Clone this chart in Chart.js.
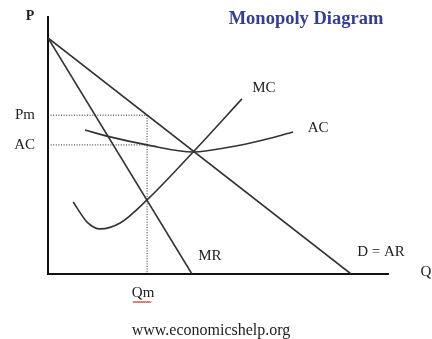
<!DOCTYPE html>
<html>
<head>
<meta charset="utf-8">
<script src="https://cdn.jsdelivr.net/npm/chart.js@4/dist/chart.umd.min.js"></script>
<style>
  html, body { margin: 0; padding: 0; background: #fff; }
  #wrap { width: 432px; height: 339px; }
</style>
</head>
<body>
<div id="wrap"><canvas id="chart" width="432" height="339"></canvas></div>
<script>
// Monopoly diagram: quantity (Q) on x, price / cost (P) on y.
const demand = [[0, 10], [10, 0]];                 // D = AR
const marginalRevenue = [[0, 10], [4.75, 0]];      // MR
const marginalCost = [[0.83, 3.05], [1.29, 2.20], [1.72, 1.91], [2.38, 2.16],
                      [3.27, 3.14], [4.79, 5.17], [6.40, 7.42]];   // MC
const averageCost = [[1.22, 6.10], [2.05, 5.81], [3.27, 5.47], [4.79, 5.17],
                     [6.01, 5.38], [7.10, 5.68], [8.09, 6.02]];    // AC
const qm = 3.27;       // profit-maximising output (MR = MC)
const pm = 6.73;       // price at Qm
const acAtQm = 5.47;   // average cost at Qm
const yTickValues = [pm, acAtQm];
const yTickLabels = ['Pm', 'AC'];
const xTickValues = [qm];
const xTickLabels = ['Qm'];

const toXY = pts => pts.map(([x, y]) => ({ x, y }));
const INK = '#333333';
const SERIF = '"Liberation Serif", "Times New Roman", serif';

const curve = (data, extra) => Object.assign({
  data: toXY(data), showLine: true, borderColor: INK, borderWidth: 1.6,
  pointRadius: 0, fill: false
}, extra || {});

const dotted = { borderColor: '#222', borderWidth: 1, borderDash: [1, 1.6] };

const labels = {
  id: 'diagramLabels',
  afterDraw(chart) {
    const { ctx, scales: { x, y } } = chart;
    const text = (s, px, py, font, color, align) => {
      ctx.save();
      ctx.font = font;
      ctx.fillStyle = color || '#222';
      ctx.textAlign = align || 'center';
      ctx.textBaseline = 'middle';
      ctx.fillText(s, px, py);
      ctx.restore();
    };
    const end = pts => pts[pts.length - 1];
    const px = p => x.getPixelForValue(p[0]);
    const py = p => y.getPixelForValue(p[1]);
    const f15 = '15px ' + SERIF;

    text('Monopoly Diagram', 306, 19, 'bold 18.5px ' + SERIF, '#353f8c');
    text('P', x.left - 18, y.top - 1, 'bold 14px ' + SERIF);
    text('Q', x.right + 38, y.bottom - 2, f15);

    const mc = end(marginalCost), ac = end(averageCost);
    const mr = end(marginalRevenue), d = end(demand);
    text('MC', px(mc) + 22, py(mc) - 11, f15);
    text('AC', px(ac) + 25, py(ac) - 4, f15);
    text('MR', px(mr) + 18, py(mr) - 18, f15);
    text('D = AR', px(d) + 30, py(d) - 22, f15);

    text('www.economicshelp.org', 211, 331, '16px ' + SERIF);

    // red wavy underline beneath the Qm tick label
    const cx = x.getPixelForValue(qm) - 5;
    ctx.save();
    ctx.strokeStyle = '#d23c3c';
    ctx.lineWidth = 1;
    ctx.beginPath();
    for (let i = 0; i <= 18; i++) {
      const xx = cx - 9 + i;
      const yy = 302 + (i % 2 === 0 ? -0.8 : 0.8);
      if (i === 0) ctx.moveTo(xx, yy); else ctx.lineTo(xx, yy);
    }
    ctx.stroke();
    ctx.restore();
  }
};

new Chart(document.getElementById('chart'), {
  type: 'scatter',
  data: {
    datasets: [
      curve([[0, pm], [qm, pm]], dotted),
      curve([[0, acAtQm], [qm, acAtQm]], dotted),
      curve([[qm, pm], [qm, 0]], dotted),
      curve(demand),
      curve(marginalRevenue),
      curve(marginalCost, { cubicInterpolationMode: 'monotone' }),
      curve(averageCost, { cubicInterpolationMode: 'monotone' })
    ]
  },
  options: {
    responsive: false,
    animation: false,
    events: [],
    layout: { padding: { top: 17, right: 44, left: 0, bottom: 0 } },
    plugins: { legend: { display: false }, tooltip: { enabled: false }, title: { display: false } },
    scales: {
      x: {
        type: 'linear', min: 0, max: 11.22,
        grid: { display: false, drawTicks: false },
        border: { display: true, color: '#111', width: 2 },
        afterFit: s => { s.height = 65; s.paddingLeft = 0; s.paddingRight = 0; },
        afterBuildTicks: s => { s.ticks = xTickValues.map(v => ({ value: v })); },
        ticks: {
          padding: 10, maxRotation: 0, labelOffset: -4, color: '#222',
          font: { family: SERIF, size: 15 },
          callback: v => xTickLabels[xTickValues.indexOf(v)]
        }
      },
      y: {
        type: 'linear', min: 0, max: 10.89,
        grid: { display: false, drawTicks: false },
        border: { display: true, color: '#111', width: 2 },
        afterFit: s => { s.width = 48; s.paddingTop = 0; s.paddingBottom = 0; },
        afterBuildTicks: s => { s.ticks = yTickValues.map(v => ({ value: v })); },
        ticks: {
          padding: 13, color: '#222',
          font: { family: SERIF, size: 15 },
          callback: v => yTickLabels[yTickValues.indexOf(v)]
        }
      }
    }
  },
  plugins: [labels]
});
</script>
</body>
</html>
